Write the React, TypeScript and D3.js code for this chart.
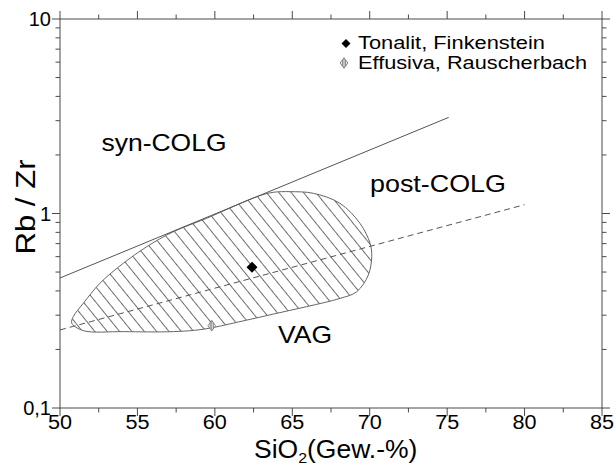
import React from 'react';
import * as d3 from 'd3';

// ---------- data ----------
const xDomain: [number, number] = [50, 85];
const yDomain: [number, number] = [0.1, 10];
const xMajorTicks = [50, 55, 60, 65, 70, 75, 80, 85];
const xMinorTicks = [52.5, 57.5, 62.5, 67.5, 72.5, 77.5, 82.5];
const yMajorTicks = [0.1, 1, 10];
const yTickLabels = ['0,1', '1', '10'];
const yMinorTicks = [0.2, 0.3, 0.4, 0.5, 0.6, 0.7, 0.8, 0.9, 2, 3, 4, 5, 6, 7, 8, 9];

// syn-COLG / VAG boundary (solid) and VAG / post-COLG boundary (dashed)
const synColgLine: [number, number][] = [[50, 0.466], [75.1, 3.12]];
const postColgLine: [number, number][] = [[50, 0.252], [80, 1.11]];

// VAG field outline (SiO2, Rb/Zr)
const vagOutline: [number, number][] = [
  [50.76, 0.273], [51.5, 0.25], [54.09, 0.247], [57.32, 0.247], [59.25, 0.254],
  [61.62, 0.278], [63.77, 0.304], [65.93, 0.332], [68.08, 0.366], [69.16, 0.396],
  [69.91, 0.483], [70.13, 0.6], [70.02, 0.703], [69.37, 0.89], [68.08, 1.128],
  [66.36, 1.27], [64.85, 1.295], [63.77, 1.285], [62.7, 1.22], [59.47, 0.945],
  [57.32, 0.806], [55.6, 0.675], [54.09, 0.555], [52.58, 0.438], [51.5, 0.345],
  [50.86, 0.295],
];

const tonalit: [number, number][] = [[62.4, 0.53]];
const effusiva: [number, number][] = [[59.8, 0.265]];

const legendLabels = ['Tonalit, Finkenstein', 'Effusiva, Rauscherbach'];
const fieldLabels = ['syn-COLG', 'post-COLG', 'VAG'];

// ---------- layout ----------
const W = 616;
const H = 468;
const M = { left: 60, right: 602, top: 19, bottom: 408 };
const FONT = '"Liberation Sans", Arial, Helvetica, sans-serif';
const AX = '#4a4a4a';

const x = d3.scaleLinear().domain(xDomain).range([M.left, M.right]);
const y = d3.scaleLog().domain(yDomain).range([M.bottom, M.top]);

function Diamond({ cx, cy, r }: { cx: number; cy: number; r: number }) {
  return <path d={`M${cx},${cy - r}L${cx + r},${cy}L${cx},${cy + r}L${cx - r},${cy}Z`} fill="#000" />;
}

function HatchDiamond({ cx, cy }: { cx: number; cy: number }) {
  const hw = 3.8, hh = 5.2;
  return (
    <g stroke="#777" strokeWidth={0.9} fill="#fff">
      <path d={`M${cx},${cy - hh}L${cx + hw},${cy}L${cx},${cy + hh}L${cx - hw},${cy}Z`} />
      <line x1={cx} x2={cx} y1={cy - hh} y2={cy + hh} />
      <line x1={cx - 1.6} x2={cx - 1.6} y1={cy - hh + 2.2} y2={cy + hh - 2.2} />
      <line x1={cx + 1.6} x2={cx + 1.6} y1={cy - hh + 2.2} y2={cy + hh - 2.2} />
    </g>
  );
}

export default function App() {
  const line = d3.line<[number, number]>().x(d => x(d[0])).y(d => y(d[1]));
  const outline = d3
    .line<[number, number]>()
    .x(d => x(d[0]))
    .y(d => y(d[1]))
    .curve(d3.curveCatmullRomClosed.alpha(0.5));
  const vagPath = outline(vagOutline) || '';

  const majLen = 8;
  const minLen = 4.5;

  return (
    <svg
      width={W}
      height={H}
      viewBox={`0 0 ${W} ${H}`}
      style={{ position: 'absolute', left: 0, top: 0, background: '#fff' }}
      fontFamily={FONT}
    >
      <defs>
        <pattern id="hatch" width={10} height={9.6} patternUnits="userSpaceOnUse" patternTransform="rotate(51)">
          <line x1={0} x2={10} y1={0.5} y2={0.5} stroke="#5a5a5a" strokeWidth={0.9} />
        </pattern>
        <clipPath id="plotclip">
          <rect x={M.left} y={M.top} width={M.right - M.left} height={M.bottom - M.top} />
        </clipPath>
      </defs>
      <rect x={0} y={0} width={W} height={H} fill="#fff" />

      <g clipPath="url(#plotclip)">
        {/* VAG field */}
        <path d={vagPath} fill="url(#hatch)" stroke="#666" strokeWidth={1} />
        {/* boundaries */}
        <path d={line(synColgLine) || ''} fill="none" stroke="#555" strokeWidth={1} />
        <path d={line(postColgLine) || ''} fill="none" stroke="#555" strokeWidth={1} strokeDasharray="6,4" />
        {/* data points */}
        {tonalit.map((d, i) => (
          <Diamond key={'t' + i} cx={x(d[0])} cy={y(d[1])} r={5.5} />
        ))}
        {effusiva.map((d, i) => (
          <HatchDiamond key={'e' + i} cx={x(d[0])} cy={y(d[1])} />
        ))}
      </g>

      {/* frame */}
      <rect x={M.left} y={M.top} width={M.right - M.left} height={M.bottom - M.top} fill="none" stroke={AX} strokeWidth={1} />

      {/* ticks (outward on all four sides) */}
      <g stroke={AX} strokeWidth={1}>
        {xMajorTicks.map(t => (
          <g key={'xm' + t}>
            <line x1={x(t)} x2={x(t)} y1={M.bottom} y2={M.bottom + majLen} />
            <line x1={x(t)} x2={x(t)} y1={M.top} y2={M.top - majLen} />
          </g>
        ))}
        {xMinorTicks.map(t => (
          <g key={'xn' + t}>
            <line x1={x(t)} x2={x(t)} y1={M.bottom} y2={M.bottom + minLen} />
            <line x1={x(t)} x2={x(t)} y1={M.top} y2={M.top - minLen} />
          </g>
        ))}
        {yMajorTicks.map(t => (
          <g key={'ym' + t}>
            <line x1={M.left} x2={M.left - majLen} y1={y(t)} y2={y(t)} />
            <line x1={M.right} x2={M.right + majLen} y1={y(t)} y2={y(t)} />
          </g>
        ))}
        {yMinorTicks.map(t => (
          <g key={'yn' + t}>
            <line x1={M.left} x2={M.left - minLen} y1={y(t)} y2={y(t)} />
            <line x1={M.right} x2={M.right + minLen} y1={y(t)} y2={y(t)} />
          </g>
        ))}
      </g>

      {/* tick labels */}
      <g fill="#000" fontSize={20}>
        {xMajorTicks.map(t => (
          <text key={'xl' + t} x={x(t)} y={429} textAnchor="middle" textLength={24} lengthAdjust="spacingAndGlyphs">
            {t}
          </text>
        ))}
        {yMajorTicks.map((t, i) => (
          <text key={'yl' + t} x={51} y={y(t) + 7} textAnchor="end">
            {yTickLabels[i]}
          </text>
        ))}
      </g>

      {/* axis titles */}
      <text x={254} y={458} fontSize={25} fill="#000" transform="translate(254,0) scale(1.06,1) translate(-254,0)">
        SiO<tspan fontSize={15} dy={5}>2</tspan>
        <tspan dy={-5}>(Gew.-%)</tspan>
      </text>
      <text
        x={0}
        y={0}
        fontSize={27}
        fill="#000"
        textAnchor="middle"
        textLength={95}
        lengthAdjust="spacingAndGlyphs"
        transform={`translate(35,${207}) rotate(-90)`}
      >
        Rb / Zr
      </text>

      {/* field labels */}
      <g fill="#000" fontSize={24}>
        <text x={101.5} y={151} textLength={125} lengthAdjust="spacingAndGlyphs">{fieldLabels[0]}</text>
        <text x={370} y={192} textLength={136} lengthAdjust="spacingAndGlyphs">{fieldLabels[1]}</text>
        <text x={278} y={343} textLength={54} lengthAdjust="spacingAndGlyphs">{fieldLabels[2]}</text>
      </g>

      {/* legend */}
      <Diamond cx={346} cy={43.5} r={4.5} />
      <HatchDiamond cx={344} cy={63} />
      <g fill="#000" fontSize={17.5}>
        <text x={358} y={48.5} textLength={187} lengthAdjust="spacingAndGlyphs">{legendLabels[0]}</text>
        <text x={358} y={68.5} textLength={229} lengthAdjust="spacingAndGlyphs">{legendLabels[1]}</text>
      </g>
    </svg>
  );
}
